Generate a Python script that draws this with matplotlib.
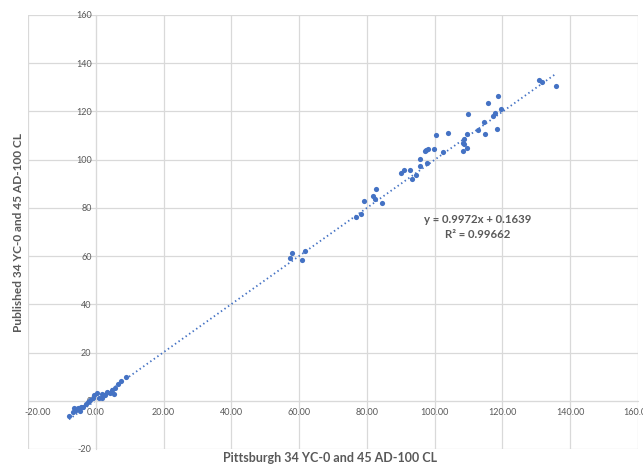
import matplotlib.pyplot as plt
import matplotlib.transforms as mtransforms
import numpy as np

plt.rcParams['font.family'] = ['Lato', 'DejaVu Sans']

# Pittsburgh (x) vs published (y) CL values
pitt = [-7.9, -6.7, -6.3, -5.7, -5.1, -4.3, -4.7, -3.7, -2.9, -2.2, -1.6, -0.8,
        -0.4, 0.4, 1.0, 1.8, 1.8, 2.6, 3.2, 4.1, 4.7, 5.3, 5.7, 6.7, 7.5, 9.0,
        57.9, 57.3, 61.7, 60.9,
        76.7, 78.2, 79.1, 81.8, 82.4, 82.8, 84.5,
        90.1, 90.9, 92.7, 93.3, 94.4, 95.7, 95.7, 97.8, 97.1, 97.6, 98.1, 99.7,
        100.3, 102.4, 104.0,
        108.3, 108.3, 108.6, 108.8, 109.6, 109.6, 109.9, 112.9, 114.7, 115.0,
        115.8, 117.2, 117.8, 118.3, 118.6, 119.6,
        130.8, 131.8, 135.7]
published = [-6.5, -4.6, -2.9, -4.0, -3.2, -2.6, -4.3, -2.4, -1.5, -0.7, 0.4, 1.0,
             2.4, 3.2, 1.2, 1.0, 2.9, 2.4, 3.7, 3.2, 4.3, 2.9, 5.1, 7.0, 8.2, 9.8,
             61.2, 59.2, 62.2, 58.4,
             76.2, 77.3, 82.9, 84.9, 83.8, 87.9, 81.9,
             94.3, 95.8, 95.8, 92.0, 93.6, 100.3, 97.3, 98.4, 103.4, 104.1, 104.2, 104.2,
             110.1, 103.0, 111.0,
             107.0, 103.4, 106.5, 108.4, 110.8, 104.9, 118.8, 112.1, 115.5, 110.6,
             123.4, 118.0, 119.3, 112.5, 126.4, 120.8,
             132.9, 132.2, 130.6]

slope = 0.9972
intercept = 0.1639
r2 = 0.99662

xticks = np.arange(-20, 161, 20)
yticks = np.arange(-20, 161, 20)

blue = '#4472C4'
grey = '#595959'

fig = plt.figure(figsize=(6.43, 4.66), dpi=100)
ax = fig.add_axes([0.0435, 0.0365, 0.9485, 0.9315])

ax.scatter(pitt, published, s=14, color=blue, zorder=3, linewidths=0)

xf = np.linspace(min(pitt), max(pitt), 200)
ax.plot(xf, slope * xf + intercept, color=blue, lw=1.3, ls=(0, (0.8, 1.6)), zorder=2)

ax.set_xlim(-20, 160)
ax.set_ylim(-20, 160)
ax.set_xticks(xticks)
ax.set_yticks(yticks)
ax.set_xticklabels([f'{v:.2f}' for v in xticks])
ax.set_yticklabels([f'{v}' for v in yticks])
ax.grid(True, color='#d9d9d9', lw=0.9, zorder=0)
ax.set_axisbelow(True)

for s in ['top', 'right']:
    ax.spines[s].set_color('none')
ax.spines['left'].set_position(('data', 0))
ax.spines['bottom'].set_position(('data', 0))
ax.spines['left'].set_color('#d9d9d9')
ax.spines['bottom'].set_color('#d9d9d9')
ax.tick_params(length=0, labelsize=6.5, labelcolor=grey)
ax.tick_params(axis='x', pad=5)
ax.tick_params(axis='y', pad=3)

# first x label sits a bit right of its gridline in the original
lbl = ax.get_xticklabels()[0]
lbl.set_transform(lbl.get_transform() + mtransforms.ScaledTranslation(10 / 100, 0, fig.dpi_scale_trans))

fig.text(0.513, 0.017, 'Pittsburgh 34 YC-0 and 45 AD-100 CL', ha='center', va='center',
         fontsize=9, fontweight='bold', color=grey)
fig.text(0.028, 0.502, 'Published 34 YC-0 and 45 AD-100 CL', ha='center', va='center',
         rotation=90, fontsize=8.6, fontweight='bold', color=grey)

ax.text(0.738, 0.512, f'y = {slope}x + {intercept}\nR² = {r2}', transform=ax.transAxes,
        ha='center', va='center', fontsize=8.2, fontweight='bold', color=grey,
        linespacing=1.45)

fig.savefig('out.png', dpi=100)
